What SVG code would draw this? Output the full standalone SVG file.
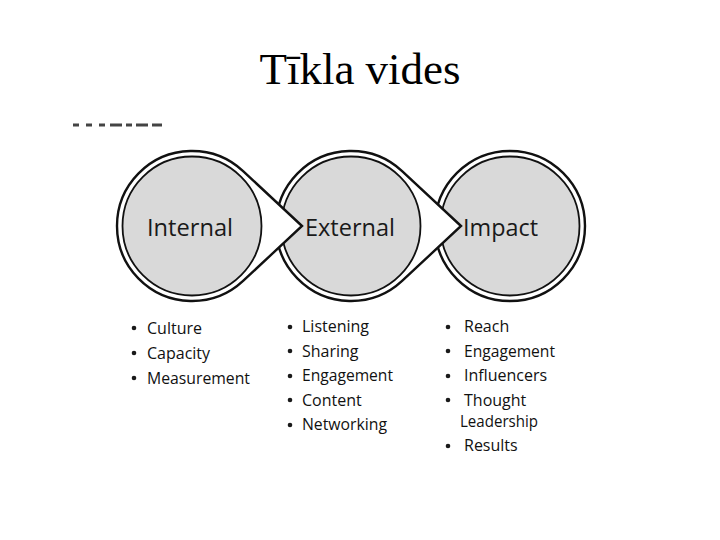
<svg xmlns="http://www.w3.org/2000/svg" width="720" height="540" viewBox="0 0 720 540">
<style>
.outer{fill:#ffffff;stroke:#111;stroke-width:2.4;stroke-linejoin:miter}
.inner{fill:#d9d9d9;stroke:#111;stroke-width:1.8}
.lbl{font-family:"Open Sans","Noto Sans",sans-serif;font-size:24px;fill:#1a1a1a}
.li{font-family:"Open Sans","Noto Sans",sans-serif;font-size:16px;fill:#111}
.title{font-family:"Liberation Serif","DejaVu Serif",serif;font-size:45px;fill:#000}
</style>
<rect width="720" height="540" fill="#fff"/>
<text class="title" x="360" y="84" text-anchor="middle">Tīkla vides</text>
<line x1="73" y1="125" x2="162" y2="125" stroke="#444" stroke-width="3" stroke-dasharray="6,7,6,7,6,5,12,4,6,4,12,4,12,4,12"/>
<g id="impact">
<circle class="outer" cx="510" cy="226" r="75"/>
<circle class="inner" cx="510" cy="226" r="69.5"/>
<text class="lbl" x="463" y="236" textLength="75" lengthAdjust="spacingAndGlyphs">Impact</text>
</g>
<g id="external">
<path class="outer" d="M461 226 L402.1 171.1 A75 75 0 1 0 402.1 280.9 Z"/>
<circle class="inner" cx="351" cy="226" r="69.5"/>
<text class="lbl" x="305" y="236" textLength="90" lengthAdjust="spacingAndGlyphs">External</text>
</g>
<g id="internal">
<path class="outer" d="M302 226 L243.1 171.1 A75 75 0 1 0 243.1 280.9 Z"/>
<circle class="inner" cx="192" cy="226" r="69.5"/>
<text class="lbl" x="147" y="236" textLength="86" lengthAdjust="spacingAndGlyphs">Internal</text>
</g>
<g id="connectors"></g>
<g id="list-internal" class="li">
<circle cx="134" cy="328" r="2.3" fill="#1a1a1a"/>
<circle cx="134" cy="353" r="2.3" fill="#1a1a1a"/>
<circle cx="134" cy="378" r="2.3" fill="#1a1a1a"/>
<text x="147" y="334">Culture</text>
<text x="147" y="359">Capacity</text>
<text x="147" y="384" textLength="103" lengthAdjust="spacingAndGlyphs">Measurement</text>
</g>
<g id="list-external" class="li">
<circle cx="290" cy="327" r="2.3" fill="#1a1a1a"/>
<circle cx="290" cy="351" r="2.3" fill="#1a1a1a"/>
<circle cx="290" cy="376" r="2.3" fill="#1a1a1a"/>
<circle cx="290" cy="400" r="2.3" fill="#1a1a1a"/>
<circle cx="290" cy="425" r="2.3" fill="#1a1a1a"/>
<text x="302" y="332">Listening</text>
<text x="302" y="357">Sharing</text>
<text x="302" y="381" textLength="91" lengthAdjust="spacingAndGlyphs">Engagement</text>
<text x="302" y="406">Content</text>
<text x="302" y="430" textLength="85" lengthAdjust="spacingAndGlyphs">Networking</text>
</g>
<g id="list-impact" class="li">
<circle cx="448" cy="327" r="2.3" fill="#1a1a1a"/>
<circle cx="448" cy="351" r="2.3" fill="#1a1a1a"/>
<circle cx="448" cy="376" r="2.3" fill="#1a1a1a"/>
<circle cx="448" cy="400" r="2.3" fill="#1a1a1a"/>
<circle cx="448" cy="446" r="2.3" fill="#1a1a1a"/>
<text x="464" y="332">Reach</text>
<text x="464" y="357" textLength="91" lengthAdjust="spacingAndGlyphs">Engagement</text>
<text x="464" y="381">Influencers</text>
<text x="464" y="406">Thought</text>
<text x="460" y="427" textLength="78" lengthAdjust="spacingAndGlyphs">Leadership</text>
<text x="464" y="451">Results</text>
</g>
</svg>
